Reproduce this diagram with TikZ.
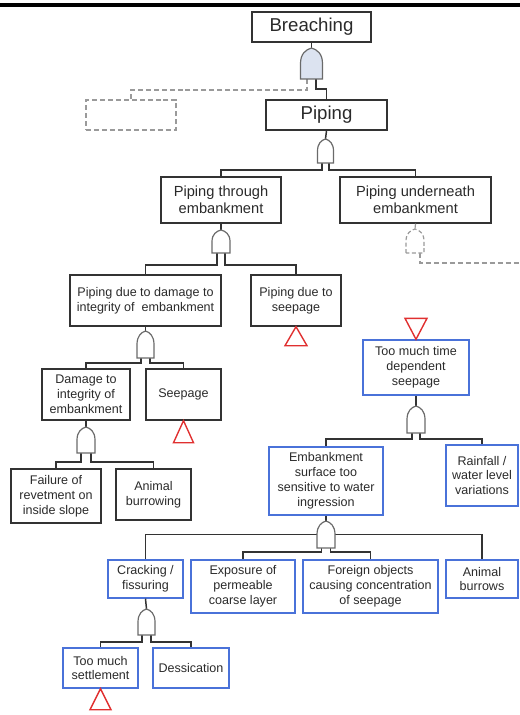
\documentclass[tikz,border=0pt]{standalone}
\usepackage{fontspec}
\setmainfont{Liberation Sans}
\definecolor{boxk}{HTML}{333333}
\definecolor{boxb}{HTML}{4A72D9}
\definecolor{gatec}{HTML}{6A6A6A}
\definecolor{gatefill}{HTML}{DCE3F0}
\definecolor{dashc}{HTML}{9A9A9A}
\definecolor{redt}{HTML}{E03030}
\definecolor{txt}{HTML}{2A2A2A}
\tikzset{
 ev/.style={draw=boxk, line width=1.4pt, inner sep=0pt, align=center, text=txt, font=\fontsize{12.6}{15}\selectfont},
 evb/.style={ev, draw=boxb},
 evd/.style={draw=dashc, line width=1.1pt, dash pattern=on 5pt off 3pt, inner sep=0pt},
 bigtxt/.style={font=\fontsize{18.7}{22}\selectfont},
 midtxt/.style={font=\fontsize{14.7}{16.7}\selectfont},
 conn/.style={draw=boxk, line width=1.5pt},
 dconn/.style={draw=dashc, line width=1.2pt, dash pattern=on 5pt off 3pt},
 gateshape/.style={draw=gatec, line width=1.2pt, fill=white},
 dgate/.style={draw=dashc, line width=1.2pt, dash pattern=on 4pt off 2.5pt, fill=white},
 tri/.style={draw=redt, line width=1.4pt},
}
% [style]{name}{cx}{top}{bot}{hw}{leg}
\newcommand\orgate[7][gateshape]{%
 \draw[#1] ({#3-#6},#5) -- ({#3-#6},{#5-0.5*(#5-#4)})
   .. controls ({#3-#6},{#4+0.18*(#5-#4)}) and ({#3-0.5*#6},{#4+0.05*(#5-#4)}) .. (#3,#4)
   .. controls ({#3+0.5*#6},{#4+0.05*(#5-#4)}) and ({#3+#6},{#4+0.18*(#5-#4)}) .. ({#3+#6},{#5-0.5*(#5-#4)})
   -- ({#3+#6},#5) -- cycle;
 \coordinate (#2) at (#3,#4);
 \coordinate (#2l) at ({#3-#7},#5);
 \coordinate (#2r) at ({#3+#7},#5);
}
\begin{document}
\begin{tikzpicture}[x=1bp,y=-1bp]
\useasboundingbox (0,0) rectangle (520,715);
\fill[black] (0,3.5) rectangle (520,7);

% nodes
\node[ev,bigtxt,minimum width=119bp,minimum height=30bp] (breach) at (311.5,27) {Breaching};
\node[evd,minimum width=90bp,minimum height=30bp] (dbox) at (131,115) {};
\node[ev,bigtxt,minimum width=121bp,minimum height=30bp] (piping) at (326.5,115) {Piping};
\node[ev,midtxt,minimum width=120bp,minimum height=46bp] (pte) at (221,200) {Piping through\\embankment};
\node[ev,midtxt,minimum width=151bp,minimum height=46bp] (pue) at (415.5,200) {Piping underneath\\embankment};
\node[ev,minimum width=151bp,minimum height=51bp] (pdd) at (145.5,300.5) {Piping due to damage to\\integrity of\ \ embankment};
\node[ev,minimum width=90bp,minimum height=51bp] (pds) at (296,300.5) {Piping due to\\seepage};
\node[evb,minimum width=106bp,minimum height=55bp] (tmt) at (416,367.5) {Too much time\\dependent\\seepage};
\node[ev,minimum width=88bp,minimum height=51bp] (dam) at (86,394.5) {Damage to\\integrity of\\embankment};
\node[ev,minimum width=75bp,minimum height=51bp] (seep) at (183.5,394.5) {Seepage};
\node[ev,minimum width=90bp,minimum height=54bp] (fail) at (56,496) {Failure of\\revetment on\\inside slope};
\node[ev,minimum width=75bp,minimum height=51bp] (aburr) at (153.5,494.5) {Animal\\burrowing};
\node[evb,minimum width=114bp,minimum height=68bp] (emb) at (326,481) {Embankment\\surface too\\sensitive to water\\ingression};
\node[evb,minimum width=72bp,minimum height=61bp] (rain) at (482,475.5) {Rainfall /\\water level\\variations};
\node[evb,minimum width=75bp,minimum height=38bp] (crack) at (145.5,579) {Cracking /\\fissuring};
\node[evb,minimum width=104bp,minimum height=53bp] (expo) at (243,586.5) {Exposure of\\permeable\\coarse layer};
\node[evb,minimum width=135bp,minimum height=53bp] (forg) at (370.5,586.5) {Foreign objects\\causing concentration\\of seepage};
\node[evb,minimum width=72bp,minimum height=38bp] (aburrows) at (482,579) {Animal\\burrows};
\node[evb,minimum width=75bp,minimum height=40bp] (tms) at (100.5,668) {Too much\\settlement};
\node[evb,minimum width=76bp,minimum height=40bp] (dess) at (191,668) {Dessication};

% gate anchor coordinates
\path (311.5,48) coordinate (g1) (307,79) coordinate (g1l) (316,79) coordinate (g1r);
\path (325.5,139) coordinate (g2) (322,163) coordinate (g2l) (329,163) coordinate (g2r);
\path (221,230) coordinate (g3) (217,253) coordinate (g3l) (225,253) coordinate (g3r);
\path (145.5,331) coordinate (g4) (141,358) coordinate (g4l) (150,358) coordinate (g4r);
\path (86,427) coordinate (g5) (81,453) coordinate (g5l) (91,453) coordinate (g5r);
\path (416,406) coordinate (g6) (412,433) coordinate (g6l) (420,433) coordinate (g6r);
\path (326,521) coordinate (g7) (321.5,548) coordinate (g7l) (330.5,548) coordinate (g7r);
\path (146.5,609) coordinate (g8) (142,635) coordinate (g8l) (151,635) coordinate (g8r);
\path (415,229) coordinate (g9) (420,253) coordinate (g9r);
\coordinate (edgeR) at (520,263);

% connectors
\draw[conn] (breach.south) -- (g1);
\draw[dconn] (g1l) -- ++(0,11) -| (dbox.north);
\draw[conn] (g1r) -- ++(0,10) -| (piping.north);
\draw[conn] (piping.south) -- (g2);
\draw[conn] (g2l) -- ++(0,7) -| (pte.north);
\draw[conn] (g2r) -- ++(0,7) -| (pue.north);
\draw[conn] (pte.south) -- (g3);
\draw[conn] (g3l) -- ++(0,12) -| (pdd.north);
\draw[conn] (g3r) -- ++(0,12) -| (pds.north);
\draw[dconn] (pue.south) -- (g9);
\draw[dconn] (g9r) |- (edgeR);
\draw[conn] (pdd.south) -- (g4);
\draw[conn] (g4l) -- ++(0,5) -| (dam.north);
\draw[conn] (g4r) -- ++(0,5) -| (seep.north);
\draw[conn] (dam.south) -- (g5);
\draw[conn] (g5l) -- ++(0,9) -| (fail.north);
\draw[conn] (g5r) -- ++(0,9) -| (aburr.north);
\draw[conn] (tmt.south) -- (g6);
\draw[conn] (g6l) -- ++(0,6) -| (emb.north);
\draw[conn] (g6r) -- ++(0,6) -| (rain.north);
\draw[conn] (emb.south) -- (g7);
\draw[conn] (crack.north) -- ++(0,-25) -| (aburrows.north);
\draw[conn] (g7l) -- ++(0,4) -| (expo.north);
\draw[conn] (g7r) -- ++(0,4) -| (forg.north);
\draw[conn] (crack.south) -- (g8);
\draw[conn] (g8l) -- ++(0,7) -| (tms.north);
\draw[conn] (g8r) -- ++(0,7) -| (dess.north);

% gates
\orgate[gateshape,fill=gatefill]{g1}{311.5}{48}{79}{11}{4.5}
\orgate{g2}{325.5}{139}{163}{8}{3.5}
\orgate{g3}{221}{230}{253}{9}{4}
\orgate{g4}{145.5}{331}{358}{8.5}{4.5}
\orgate{g5}{86}{427}{453}{9}{5}
\orgate{g6}{416}{406}{433}{9}{4}
\orgate{g7}{326}{521}{548}{9}{4.5}
\orgate{g8}{146.5}{609}{635}{8.5}{4.5}
\orgate[dgate]{g9}{415}{229}{253}{9}{5}

% transfer triangles
\draw[tri] (pds.south) -- ++(11,19) -- ++(-22,0) -- cycle;
\draw[tri] (tmt.north) -- ++(11,-21) -- ++(-22,0) -- cycle;
\draw[tri] (seep.south) -- ++(10,22) -- ++(-20,0) -- cycle;
\draw[tri] (tms.south) -- ++(10.5,21) -- ++(-21,0) -- cycle;
\end{tikzpicture}
\end{document}
